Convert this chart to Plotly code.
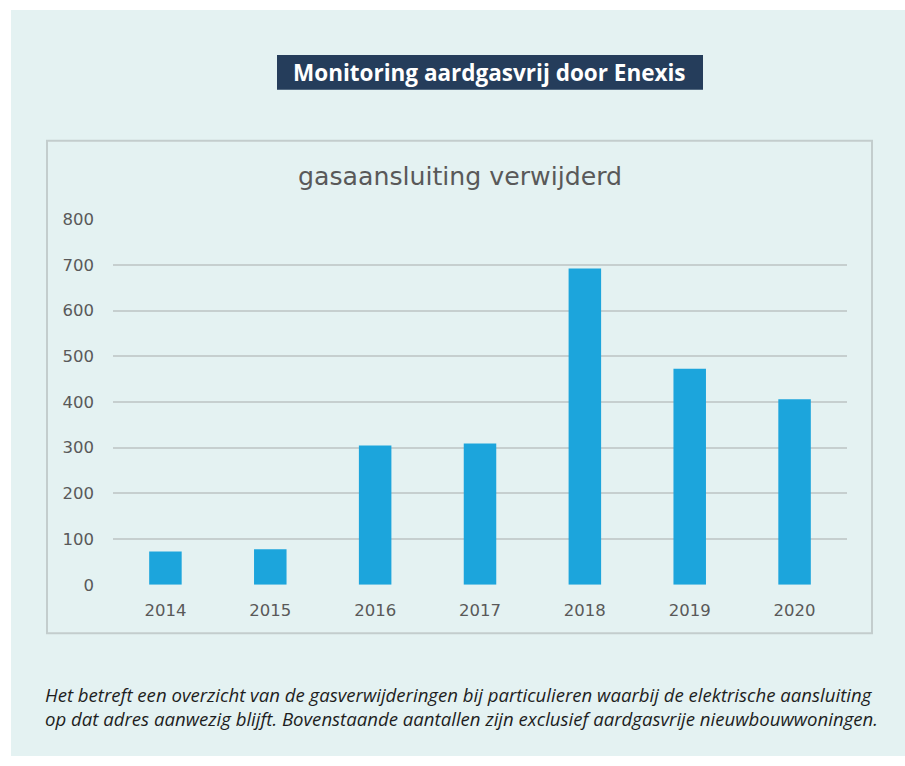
import plotly.graph_objects as go

years = ["2014", "2015", "2016", "2017", "2018", "2019", "2020"]
removed = [73, 78, 305, 309, 692, 473, 406]
y_ticks = [0, 100, 200, 300, 400, 500, 600, 700, 800]

W, H = 905, 766
# the photographed page comes out slightly squeezed vertically; pre-compensate
SY, OY = 0.9763, 9.06


def px(x):
    return x / W


def py(y):
    y_set = (y - OY) / SY
    return min(1.0, max(0.0, 1 - y_set / H))


fig = go.Figure(
    go.Bar(
        x=years,
        y=removed,
        marker=dict(color="#1ca5dc", line=dict(width=0)),
        width=0.31,
        hoverinfo="x+y",
    )
)

shapes = [
    dict(type="rect", xref="paper", yref="paper", x0=px(11), x1=px(905), y0=py(757), y1=py(10),
         fillcolor="#e4f2f2", line=dict(width=0), layer="below"),
    dict(type="rect", xref="paper", yref="paper", x0=px(277), x1=px(703), y0=py(90), y1=py(55),
         fillcolor="#253d5b", line=dict(width=0), layer="below"),
    dict(type="rect", xref="paper", yref="paper", x0=px(47), x1=px(872), y0=py(634), y1=py(141),
         fillcolor="rgba(0,0,0,0)", line=dict(color="#c3cdcd", width=2), layer="below"),
]

annotations = [
    dict(text="<b>Monitoring aardgasvrij door Enexis</b>", xref="paper", yref="paper",
         x=px(490), y=py(72.5), xanchor="center", yanchor="middle", showarrow=False,
         font=dict(family="Open Sans", size=22.5, color="#ffffff")),
    dict(text="gasaansluiting verwijderd", xref="paper", yref="paper",
         x=px(460), y=py(177), xanchor="center", yanchor="middle", showarrow=False,
         font=dict(family="DejaVu Sans", size=25.2, color="#595959")),
    dict(text="Het betreft een overzicht van de gasverwijderingen bij particulieren waarbij de elektrische aansluiting<br>"
              "op dat adres aanwezig blijft. Bovenstaande aantallen zijn exclusief aardgasvrije nieuwbouwwoningen.",
         xref="paper", yref="paper", x=px(43), y=py(707), xanchor="left", yanchor="middle",
         align="left", showarrow=False,
         font=dict(family="Open Sans", size=18.6, color="#1e1e1e", style="italic")),
]

fig.update_layout(
    width=W,
    height=H,
    margin=dict(l=0, r=0, t=0, b=0),
    paper_bgcolor="#ffffff",
    plot_bgcolor="rgba(0,0,0,0)",
    showlegend=False,
    shapes=shapes,
    annotations=annotations,
    xaxis=dict(
        domain=[px(113), px(847)],
        showgrid=False,
        showline=False,
        zeroline=False,
        ticks="",
        tickfont=dict(family="DejaVu Sans", size=16.5, color="#595959"),
        ticklabelstandoff=14,
        fixedrange=True,
    ),
    yaxis=dict(
        domain=[py(585.5), py(219.5)],
        range=[0, 800],
        tickvals=y_ticks,
        showgrid=True,
        gridcolor="#c6cfcf",
        gridwidth=2,
        zeroline=False,
        showline=False,
        ticks="",
        tickfont=dict(family="DejaVu Sans", size=16.5, color="#595959"),
        ticklabelstandoff=18,
        fixedrange=True,
    ),
)

fig.write_html(
    "out.html",
    config={"displayModeBar": False},
    post_script="document.body.style.margin='0';document.body.style.overflow='hidden';",
)
